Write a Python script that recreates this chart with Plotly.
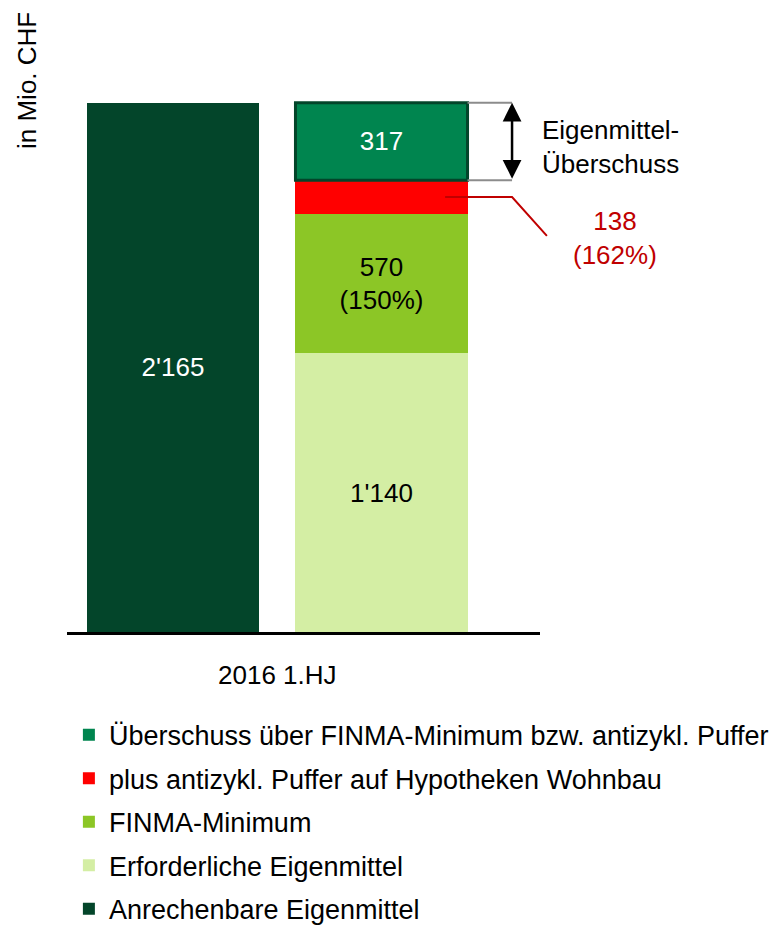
import plotly.graph_objects as go

# ---------------- data ----------------
categories = ["Anrechenbare", "Erforderlich"]
period_label = "2016 1.HJ"
y_title = "in Mio. CHF"

anrechenbar_val = 2165
erforderlich_val = 1140
finma_min_val = 570
finma_min_pct = "150%"
puffer_val = 138
puffer_pct = "162%"
ueberschuss_val = 317

names = {
    "anr": "Anrechenbare Eigenmittel",
    "erf": "Erforderliche Eigenmittel",
    "fin": "FINMA-Minimum",
    "puf": "plus antizykl. Puffer auf Hypotheken Wohnbau",
    "ueb": "Überschuss über FINMA-Minimum bzw. antizykl. Puffer",
}
surplus_label = "Eigenmittel-<br>Überschuss"

# ---------------- style ----------------
FONT = "Liberation Sans, Arial, sans-serif"
C_ANR = "#03452a"
C_ERF = "#d4eea4"
C_FIN = "#8cc626"
C_PUF = "#ff0000"
C_UEB = "#00854f"
C_RED_TXT = "#c00000"
FS = 26


def fmt(v):
    return f"{v:,}".replace(",", "'")


bar_w = 0.825
x_range = [-0.508, 1.76]
y_max = 2180

fig = go.Figure()
fig.add_trace(go.Bar(
    x=[categories[0]], y=[anrechenbar_val], name=names["anr"],
    marker=dict(color=C_ANR, line=dict(width=0)),
    text=[fmt(anrechenbar_val)], textposition="inside", insidetextanchor="middle",
    textfont=dict(color="white", size=FS, family=FONT), legendgroup="g5",
    legendrank=5,
))
fig.add_trace(go.Bar(
    x=[categories[1]], y=[erforderlich_val], name=names["erf"],
    marker=dict(color=C_ERF, line=dict(width=0)),
    text=[fmt(erforderlich_val)], textposition="inside", insidetextanchor="middle",
    textfont=dict(color="black", size=FS, family=FONT), legendgroup="g4",
    legendrank=4,
))
fig.add_trace(go.Bar(
    x=[categories[1]], y=[finma_min_val], name=names["fin"],
    marker=dict(color=C_FIN, line=dict(width=0)),
    text=[f"{fmt(finma_min_val)}<br>({finma_min_pct})"], textposition="inside",
    insidetextanchor="middle",
    textfont=dict(color="black", size=FS, family=FONT), legendgroup="g3",
    legendrank=3,
))
fig.add_trace(go.Bar(
    x=[categories[1]], y=[puffer_val], name=names["puf"],
    marker=dict(color=C_PUF, line=dict(width=0)),
    textposition="none", legendgroup="g2", legendrank=2,
))
fig.add_trace(go.Bar(
    x=[categories[1]], y=[ueberschuss_val], name=names["ueb"],
    marker=dict(color=C_UEB, line=dict(width=0)),
    text=[fmt(ueberschuss_val)], textposition="inside", insidetextanchor="middle",
    textfont=dict(color="white", size=FS, family=FONT), legendgroup="g1",
    legendrank=1,
))

# derived positions from data
base_surplus = erforderlich_val + finma_min_val + puffer_val
top_surplus = base_surplus + ueberschuss_val
puffer_mid = erforderlich_val + finma_min_val + puffer_val / 2
x_right_edge = 1 + bar_w / 2
x_left_in = 1 + 0.305
x_bracket = 1.626


def to_paper(xv):
    return (xv - x_range[0]) / (x_range[1] - x_range[0])


shapes = [
    # border around surplus segment
    dict(type="rect", xref="x", yref="y", x0=1 - bar_w / 2, x1=1 + bar_w / 2,
         y0=base_surplus, y1=top_surplus, line=dict(color=C_ANR, width=3),
         fillcolor="rgba(0,0,0,0)", layer="above"),
    # bracket lines
    dict(type="line", xref="x", yref="y", x0=x_right_edge, x1=x_bracket,
         y0=top_surplus, y1=top_surplus, line=dict(color="#8c8c8c", width=2)),
    dict(type="line", xref="x", yref="y", x0=x_right_edge, x1=x_bracket,
         y0=base_surplus, y1=base_surplus, line=dict(color="#8c8c8c", width=2)),
    # red leader line
    dict(type="path", xref="paper", yref="y",
         path=f"M {to_paper(x_left_in)} {puffer_mid} L {to_paper(x_bracket)} {puffer_mid} "
              f"L {to_paper(1.793)} 1620",
         line=dict(color=C_RED_TXT, width=2)),
]

annotations = [
    # double arrow
    dict(x=x_bracket, y=top_surplus, ax=x_bracket, ay=base_surplus,
         xref="x", yref="y", axref="x", ayref="y", text="", showarrow=True,
         arrowhead=2, startarrowhead=2, arrowside="end+start", arrowsize=1.5,
         startarrowsize=1.5, arrowwidth=2.5, arrowcolor="black"),
    dict(x=1.150, y=1985 / y_max, xref="paper", yref="paper", text=surplus_label,
         showarrow=False, font=dict(size=FS, color="black", family=FONT),
         align="left", xanchor="center", yanchor="middle"),
    dict(x=1.159, y=1611 / y_max, xref="paper", yref="paper",
         text=f"{puffer_val}<br>({puffer_pct})", showarrow=False,
         font=dict(size=FS, color=C_RED_TXT, family=FONT), align="center",
         xanchor="center", yanchor="middle"),
    dict(x=0.5, y=-0.081, xref="x", yref="paper", text=period_label, showarrow=False,
         font=dict(size=FS, color="black", family=FONT), xanchor="center",
         yanchor="middle"),
    dict(x=-0.0846, y=1.0356, xref="paper", yref="paper", text=y_title,
         showarrow=False, textangle=-90,
         font=dict(size=FS, color="black", family=FONT), xanchor="center",
         yanchor="middle"),
]

fig.update_layout(
    width=783, height=925,
    margin=dict(l=59, r=251, t=91, b=301, autoexpand=False),
    barmode="stack", bargap=1 - bar_w,
    paper_bgcolor="white", plot_bgcolor="white",
    font=dict(family=FONT, size=FS, color="black"),
    showlegend=True,
    legend=dict(x=0.004, xanchor="left", y=-0.1475, yanchor="top",
                traceorder="grouped",
                font=dict(size=27, family=FONT, color="black"),
                tracegroupgap=5.4, bgcolor="rgba(0,0,0,0)"),
    shapes=shapes, annotations=annotations,
)
fig.update_xaxes(type="category", range=x_range, showticklabels=False,
                 showline=True, linecolor="black", linewidth=3, ticks="",
                 showgrid=False, zeroline=False, fixedrange=True)
fig.update_yaxes(range=[0, y_max], showticklabels=False, showgrid=False,
                 zeroline=False, showline=False, ticks="")

fig.write_html("out.html")
